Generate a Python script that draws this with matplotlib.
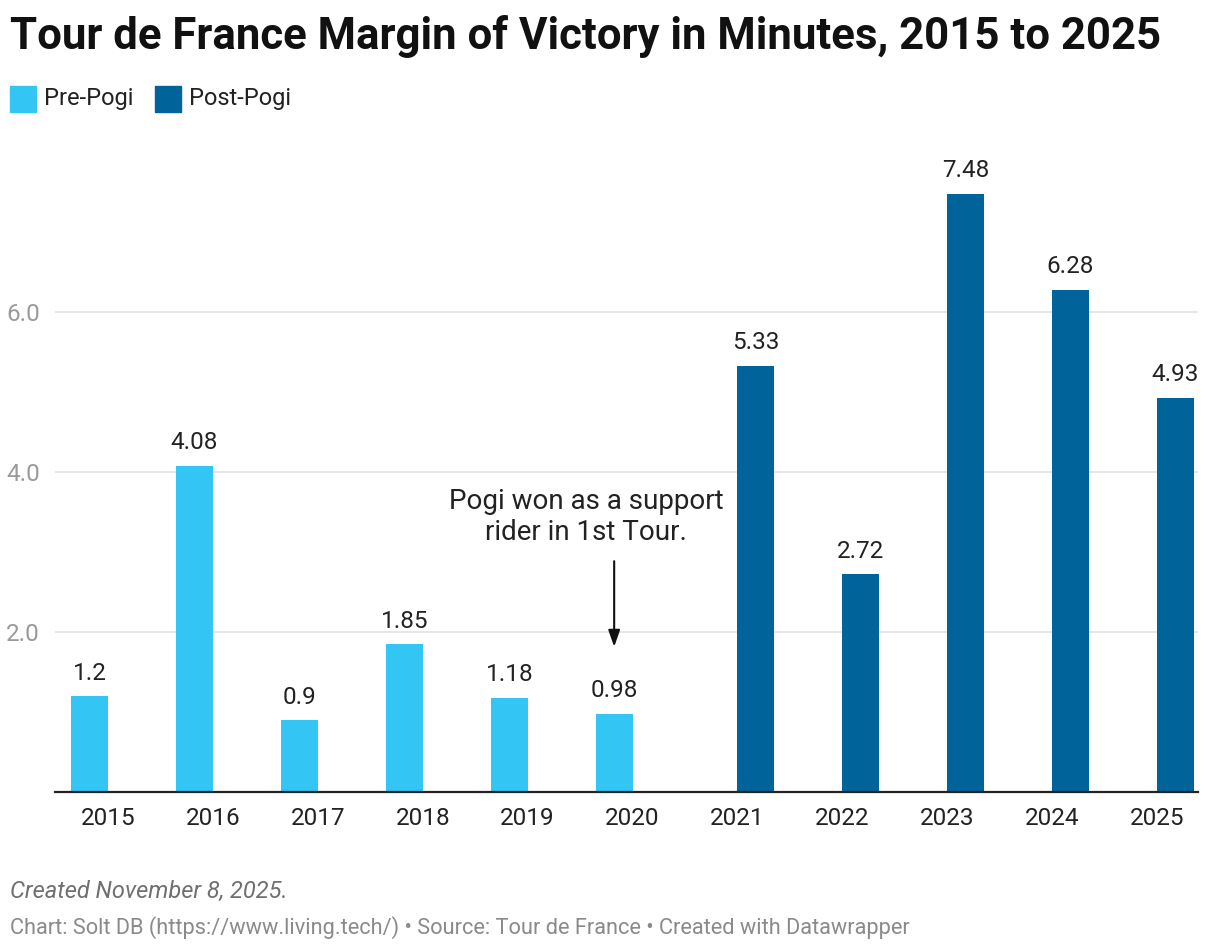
import numpy as np
import matplotlib.pyplot as plt
from matplotlib.patches import Rectangle

plt.rcParams['font.family'] = ['Roboto', 'DejaVu Sans']

years = ['2015', '2016', '2017', '2018', '2019', '2020',
         '2021', '2022', '2023', '2024', '2025']
pre_pogi = [1.2, 4.08, 0.9, 1.85, 1.18, 0.98, None, None, None, None, None]
post_pogi = [None, None, None, None, None, None, 5.33, 2.72, 7.48, 6.28, 4.93]
pre_labels = ['1.2', '4.08', '0.9', '1.85', '1.18', '0.98']
post_labels = ['5.33', '2.72', '7.48', '6.28', '4.93']

PRE_COLOR = '#33C5F3'
POST_COLOR = '#00649A'

fig = plt.figure(figsize=(12.2, 9.52), dpi=100)
ax = fig.add_axes([55 / 1220, 1 - 792 / 952, 1143 / 1220, 644 / 952])

x = np.arange(len(years))
w = 0.35
pre = np.array([np.nan if v is None else v for v in pre_pogi])
post = np.array([np.nan if v is None else v for v in post_pogi])
ax.bar(x - w / 2, pre, width=w, color=PRE_COLOR, zorder=3)
ax.bar(x + w / 2, post, width=w, color=POST_COLOR, zorder=3)

# value labels
for xi, v, lab in zip(x[:6], pre[:6], pre_labels):
    ax.annotate(lab, (xi - w / 2, v), xytext=(0, 8), textcoords='offset points',
                ha='center', va='bottom', fontsize=17.5, color='#222222')
for xi, v, lab in zip(x[6:], post[6:], post_labels):
    ax.annotate(lab, (xi + w / 2, v), xytext=(0, 8), textcoords='offset points',
                ha='center', va='bottom', fontsize=17.5, color='#222222')

ax.set_xlim(-0.505, 10.39)
ax.set_ylim(0, 8.05)
ax.set_yticks([2, 4, 6])
ax.set_yticklabels(['2.0', '4.0', '6.0'])
ax.set_xticks(x)
ax.set_xticklabels(years)
ax.tick_params(axis='y', length=0, pad=11, labelsize=17.5, labelcolor='#9a9a9a')
ax.tick_params(axis='x', length=0, pad=11, labelsize=17.5, labelcolor='#222222')
ax.grid(axis='y', color='#e2e2e2', linewidth=1.2, zorder=0)
for s in ['top', 'right', 'left']:
    ax.spines[s].set_visible(False)
ax.spines['bottom'].set_color('#222222')
ax.spines['bottom'].set_linewidth(1.6)
ax.spines['bottom'].set_zorder(4)

# annotation
ax.text(4.557, 3.44, 'Pogi won as a support\nrider in 1st Tour.', ha='center', va='center',
        fontsize=20, color='#222222', linespacing=1.2)
ax.annotate('', xy=(5 - w / 2, 1.78), xytext=(5 - w / 2, 2.92),
            arrowprops=dict(arrowstyle='-|>,head_width=0.35,head_length=1.0',
                            color='#111111', lw=1.5))

# title
fig.text(10 / 1220, 1 - 36 / 952, 'Tour de France Margin of Victory in Minutes, 2015 to 2025',
         fontsize=31.5, fontweight='bold', color='#111111', va='center', ha='left')

# legend
for lx, col, lab in [(10, PRE_COLOR, 'Pre-Pogi'), (155, POST_COLOR, 'Post-Pogi')]:
    fig.patches.append(Rectangle((lx / 1220, 1 - 112 / 952), 26 / 1220, 26 / 952,
                                 transform=fig.transFigure, color=col))
    fig.text((lx + 34) / 1220, 1 - 99 / 952, lab, fontsize=17, color='#222222',
             va='center', ha='left')

# footer
fig.text(10 / 1220, 1 - 891 / 952, 'Created November 8, 2025.', fontsize=17,
         style='italic', color='#707070', va='center', ha='left')
fig.text(10 / 1220, 1 - 928 / 952,
         'Chart: Solt DB (https://www.living.tech/) \u2022 Source: Tour de France \u2022 Created with Datawrapper',
         fontsize=15.7, color='#8a8a8a', va='center', ha='left')

fig.savefig('out.png', dpi=100)
